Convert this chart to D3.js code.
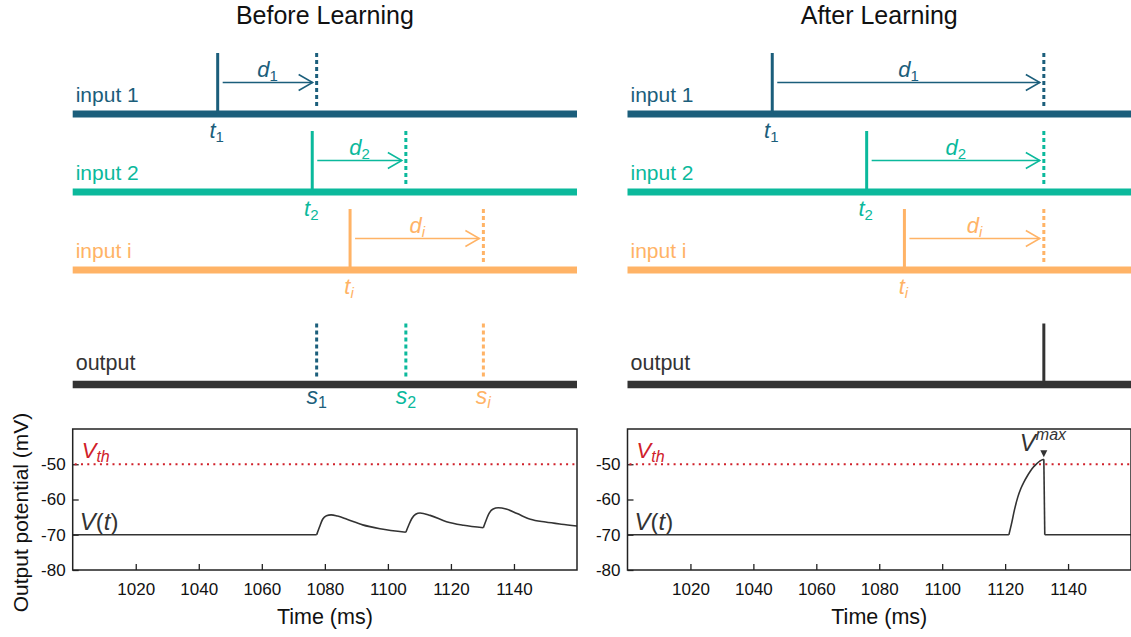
<!DOCTYPE html>
<html>
<head>
<meta charset="utf-8">
<script src="https://cdn.jsdelivr.net/npm/d3@7"></script>
<style>
  html, body { margin: 0; padding: 0; background: #fff; }
  svg { display: block; }
  text { font-family: "Liberation Sans", Arial, Helvetica, sans-serif; }
</style>
</head>
<body>
<script>
// ---------------- data ----------------
const panelTitles = ["Before Learning", "After Learning"];
const inputNames = ["input 1", "input 2", "input i"];
const inputSubs = ["1", "2", "i"];
const inputColors = ["#1b5e7b", "#0bb99c", "#ffb366"];
const outputColor = "#333333";
const spikeTimes = [1046, 1076, 1088];          // t1, t2, ti (ms)
const delaysBefore = [31.4, 29.7, 42.3];        // d1, d2, di before learning
const delaysAfter = [86.3, 56.3, 44.3];         // d1, d2, di after learning
const outputSpikeAfter = 1132.3;                // output spike after learning
const timeDomain = [1000, 1160];
const vDomain = [-80, -40];
const xTicks = [1020, 1040, 1060, 1080, 1100, 1120, 1140];
const yTicks = [-50, -60, -70, -80];
const vThreshold = -50;

// membrane potential, in piecewise-smooth segments [time, mV]
const vBefore = [
  [[1000, -70], [1077.4, -70]],
  [[1077.4, -70], [1078.3, -67.8], [1079.3, -65.6], [1080.5, -64.6], [1082, -64.35],
   [1084, -64.7], [1087, -65.6], [1092, -67.2], [1097.5, -68.3], [1105.7, -69.3]],
  [[1105.7, -69.3], [1106.6, -67.3], [1107.6, -65.4], [1108.8, -64.2], [1110.2, -63.85],
   [1113.4, -64.5], [1118.6, -66.3], [1124, -67.3], [1130.3, -68.0]],
  [[1130.3, -68.0], [1131.2, -65.8], [1132.2, -63.8], [1133.4, -62.7], [1135, -62.35],
   [1137.5, -62.7], [1141, -64.0], [1145.2, -65.6], [1150, -66.4], [1155, -67.0], [1160, -67.5]]
];
const vAfter = [
  [[1000, -70], [1121.2, -70]],
  [[1121.2, -70], [1122, -67], [1123, -62.8], [1124, -59.4], [1125, -56.9], [1126, -55.0],
   [1127, -53.4], [1128, -52.0], [1129, -50.8], [1130, -49.9], [1131, -49.1], [1132.3, -48.6]],
  [[1132.3, -48.6], [1132.6, -70]],
  [[1132.6, -70], [1160, -70]]
];
const vMaxPoint = [1132.3, -48.6];

// ---------------- layout ----------------
const W = 1131, H = 637;
const panelX = [[72.7, 577], [627.5, 1131]];
const laneY = [114, 192, 270];
const outLaneY = 384.5;
const plotTop = 429, plotBottom = 570;
const spikeH = 61;
const font = '"Liberation Sans", Arial, Helvetica, sans-serif';

const svg = d3.select("body").append("svg")
  .attr("width", W).attr("height", H)
  .attr("viewBox", `0 0 ${W} ${H}`);

function subText(g, x, y, main, sub, color, opts) {
  const o = Object.assign({ size: 22, subSize: 15, subItalic: false, anchor: "middle", dy: 4, mainItalic: true }, opts || {});
  const t = g.append("text")
    .attr("x", x).attr("y", y)
    .attr("text-anchor", o.anchor)
    .attr("fill", color)
    .attr("font-size", o.size);
  t.append("tspan").attr("font-style", o.mainItalic ? "italic" : "normal").text(main);
  t.append("tspan").attr("font-size", o.subSize).attr("dy", o.dy)
    .attr("font-style", o.subItalic ? "italic" : "normal").text(sub);
  return t;
}

panelTitles.forEach((title, p) => {
  const x = d3.scaleLinear().domain(timeDomain).range(panelX[p]);
  const y = d3.scaleLinear().domain(vDomain).range([plotBottom, plotTop]);
  const g = svg.append("g");
  const delays = p === 0 ? delaysBefore : delaysAfter;
  const cx = (panelX[p][0] + panelX[p][1]) / 2;

  // title
  g.append("text").attr("x", cx).attr("y", 24).attr("text-anchor", "middle")
    .attr("font-size", 25).attr("fill", "#111").text(title);

  // input lanes
  inputNames.forEach((name, i) => {
    const col = inputColors[i];
    const ly = laneY[i];
    const ts = spikeTimes[i];
    const ta = ts + delays[i];
    g.append("line").attr("x1", x(timeDomain[0])).attr("x2", x(timeDomain[1]))
      .attr("y1", ly).attr("y2", ly).attr("stroke", col).attr("stroke-width", 7);
    g.append("text").attr("x", x(timeDomain[0]) + 3).attr("y", ly - 12)
      .attr("font-size", 21).attr("fill", col).text(name);
    // input spike
    g.append("line").attr("x1", x(ts)).attr("x2", x(ts))
      .attr("y1", ly - spikeH).attr("y2", ly).attr("stroke", col).attr("stroke-width", 3);
    // delayed (dashed) spike
    g.append("line").attr("x1", x(ta)).attr("x2", x(ta))
      .attr("y1", ly - spikeH).attr("y2", ly - 5).attr("stroke", col)
      .attr("stroke-width", 3).attr("stroke-dasharray", "4,3");
    // arrow
    const ay = ly - 31.5;
    const ax1 = x(ts) + 5, ax2 = x(ta) - 4;
    g.append("line").attr("x1", ax1).attr("x2", ax2).attr("y1", ay).attr("y2", ay)
      .attr("stroke", col).attr("stroke-width", 1.5);
    g.append("path").attr("d", `M${ax2 - 14},${ay - 8}L${ax2},${ay}L${ax2 - 14},${ay + 8}`)
      .attr("fill", "none").attr("stroke", col).attr("stroke-width", 1.5);
    subText(g, (ax1 + ax2) / 2, ay - 6, "d", inputSubs[i], col, { subItalic: inputSubs[i] === "i" });
    // t label
    subText(g, x(ts) - 1, ly + 24, "t", inputSubs[i], col, { subItalic: inputSubs[i] === "i" });
  });

  // output lane
  g.append("line").attr("x1", x(timeDomain[0])).attr("x2", x(timeDomain[1]))
    .attr("y1", outLaneY).attr("y2", outLaneY).attr("stroke", outputColor).attr("stroke-width", 7.5);
  g.append("text").attr("x", x(timeDomain[0]) + 3).attr("y", outLaneY - 15)
    .attr("font-size", 21.5).attr("fill", outputColor).text("output");
  if (p === 0) {
    inputNames.forEach((name, i) => {
      const ta = spikeTimes[i] + delays[i];
      g.append("line").attr("x1", x(ta)).attr("x2", x(ta))
        .attr("y1", outLaneY - spikeH).attr("y2", outLaneY - 6).attr("stroke", inputColors[i])
        .attr("stroke-width", 3).attr("stroke-dasharray", "4,3");
      subText(g, x(ta), outLaneY + 19, "s", inputSubs[i], inputColors[i],
        { size: 23, subSize: 16, subItalic: inputSubs[i] === "i", dy: 4 });
    });
  } else {
    g.append("line").attr("x1", x(outputSpikeAfter)).attr("x2", x(outputSpikeAfter))
      .attr("y1", outLaneY - spikeH).attr("y2", outLaneY).attr("stroke", outputColor).attr("stroke-width", 3);
  }

  // ---- potential plot ----
  const xAxis = d3.axisBottom(x).tickValues(xTicks).tickSizeInner(-6).tickSizeOuter(0).tickPadding(13)
    .tickFormat(d3.format("d"));
  const yAxis = d3.axisLeft(y).tickValues(yTicks).tickSizeInner(-6).tickSizeOuter(0).tickPadding(7)
    .tickFormat(d => String(d).replace("\u2212", "-"));
  const xa = g.append("g").attr("transform", `translate(0,${plotBottom})`).call(xAxis);
  const ya = g.append("g").attr("transform", `translate(${x(timeDomain[0])},0)`).call(yAxis);
  [xa, ya].forEach(a => {
    a.select(".domain").remove();
    a.selectAll(".tick line").attr("stroke", "#222").attr("stroke-width", 1.3);
    a.selectAll(".tick text").attr("font-size", 17).attr("fill", "#111").attr("font-family", font);
  });

  // threshold
  g.append("line").attr("x1", x(timeDomain[0]) + 2).attr("x2", x(timeDomain[1]))
    .attr("y1", y(vThreshold)).attr("y2", y(vThreshold))
    .attr("stroke", "#d0202a").attr("stroke-width", 2).attr("stroke-dasharray", "2,4.3");
  const vth = g.append("text").attr("x", x(timeDomain[0]) + 9).attr("y", y(vThreshold) - 6)
    .attr("fill", "#d0202a").attr("font-size", 22);
  vth.append("tspan").attr("font-style", "italic").text("V");
  vth.append("tspan").attr("font-style", "italic").attr("font-size", 16).attr("dy", 4).text("th");

  // V(t) curve
  const line = d3.line().x(d => x(d[0])).y(d => y(d[1])).curve(d3.curveMonotoneX);
  const segs = p === 0 ? vBefore : vAfter;
  g.append("g").selectAll("path").data(segs).join("path")
    .attr("d", line).attr("fill", "none").attr("stroke", "#333").attr("stroke-width", 1.6)
    .attr("stroke-linejoin", "round");

  const vt = g.append("text").attr("x", x(timeDomain[0]) + 7).attr("y", y(-70) - 5)
    .attr("fill", "#333").attr("font-size", 24);
  vt.append("tspan").attr("font-style", "italic").text("V");
  vt.append("tspan").text("(");
  vt.append("tspan").attr("font-style", "italic").text("t");
  vt.append("tspan").text(")");

  if (p === 1) {
    const mx = x(vMaxPoint[0]), my = y(vMaxPoint[1]);
    g.append("path").attr("d", `M${mx - 3.5},${my - 9}L${mx + 3.5},${my - 9}L${mx},${my - 2}Z`)
      .attr("fill", "#333");
    const vm = g.append("text").attr("x", mx - 24).attr("y", my - 8)
      .attr("fill", "#333").attr("font-size", 24).attr("text-anchor", "start");
    vm.append("tspan").attr("font-style", "italic").text("V");
    vm.append("tspan").attr("font-style", "italic").attr("font-size", 16).attr("dy", -11).text("max");
  }

  // frame
  g.append("rect").attr("x", x(timeDomain[0])).attr("y", plotTop)
    .attr("width", x(timeDomain[1]) - x(timeDomain[0])).attr("height", plotBottom - plotTop)
    .attr("fill", "none").attr("stroke", "#222").attr("stroke-width", 1.5);

  // axis labels
  g.append("text").attr("x", cx).attr("y", 624).attr("text-anchor", "middle")
    .attr("font-size", 21.5).attr("fill", "#111").text("Time (ms)");
  if (p === 0) {
    g.append("text").attr("transform", `translate(28,${(plotTop + 600) / 2 - 2}) rotate(-90)`)
      .attr("text-anchor", "middle").attr("font-size", 21).attr("fill", "#111")
      .text("Output potential (mV)");
  }
});
</script>
</body>
</html>
